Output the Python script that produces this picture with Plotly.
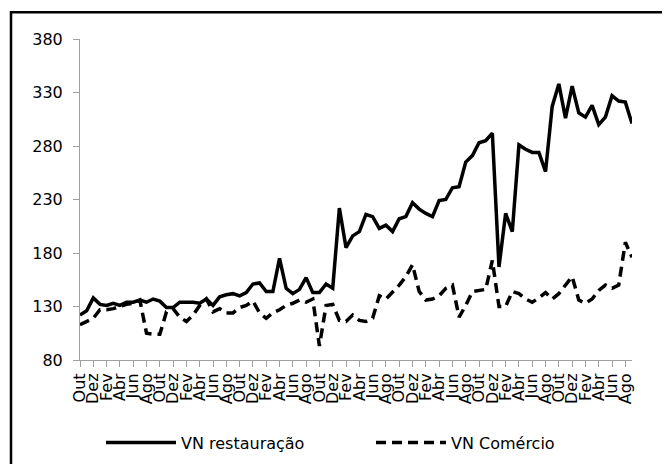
import plotly.graph_objects as go

nomes_mes = ["Jan", "Fev", "Mar", "Abr", "Mai", "Jun",
             "Jul", "Ago", "Set", "Out", "Nov", "Dez"]

# série mensal, de Out a Set (84 meses)
meses = [nomes_mes[(9 + i) % 12] for i in range(84)]

vn_restauracao = [
    122, 126, 138, 132, 131, 133, 131, 134, 134, 136, 134, 137,
    135, 129, 129, 134, 134, 134, 133, 137, 131, 139, 141, 142,
    140, 143, 151, 152, 144, 144, 175, 147, 142, 146, 157, 143,
    143, 151, 147, 222, 185, 196, 200, 216, 214, 203, 206, 200,
    212, 214, 227, 221, 217, 214, 229, 230, 241, 242, 265, 271,
    283, 285, 292, 167, 217, 200, 281, 277, 274, 274, 256, 317,
    338, 306, 336, 311, 307, 318, 300, 307, 327, 322, 321, 301,
]

vn_comercio = [
    113, 116, 119, 127, 127, 128, 130, 132, 133, 136, 105, 104,
    104, 125, 128, 120, 116, 122, 131, 137, 125, 128, 124, 124,
    129, 131, 135, 124, 119, 124, 127, 131, 133, 136, 134, 137,
    93, 131, 132, 117, 116, 122, 117, 116, 119, 140, 137, 143,
    150, 158, 169, 144, 136, 137, 140, 147, 150, 120, 131, 144,
    145, 146, 173, 130, 130, 144, 142, 137, 134, 138, 143, 137,
    142, 150, 158, 136, 133, 137, 145, 150, 147, 150, 190, 176,
]

# a página tem 8px de margem no body, por isso tudo vai 8px para trás
W, H = 670, 464
ML, MR, MT, MB = 72, 46, 31, 110
PW, PH = W - ML - MR, H - MT - MB


def px_x(p):
    return (p - ML) / PW


def px_y(p):
    return (H - MB - p) / PH


def main():
    x = list(range(len(meses)))
    fig = go.Figure()
    fig.add_trace(go.Scatter(x=x, y=vn_restauracao, mode="lines", name="VN restauração",
                             line=dict(color="black", width=3.5)))
    fig.add_trace(go.Scatter(x=x, y=vn_comercio, mode="lines", name="VN Comércio",
                             line=dict(color="black", width=3.5, dash="10px,6px")))

    fig.update_xaxes(range=[0, len(meses) - 1], tickvals=x[::2], ticktext=meses[::2],
                     tickangle=-90, showgrid=False, zeroline=False, showline=True,
                     linecolor="#a0a0a0", linewidth=1, ticks="outside", ticklen=6,
                     tickcolor="#a0a0a0", automargin=False)
    fig.update_yaxes(range=[80, 380], tick0=80, dtick=50, showgrid=False, zeroline=False,
                     showline=True, linecolor="#a0a0a0", linewidth=1, ticks="outside",
                     ticklen=6, tickcolor="#a0a0a0", ticklabelstandoff=7, automargin=False)

    fig.add_shape(type="rect", xref="paper", yref="paper",
                  x0=px_x(3), x1=px_x(657), y0=px_y(470), y1=px_y(4),
                  line=dict(color="black", width=2.5))

    fig.update_layout(
        width=W, height=H,
        margin=dict(l=ML, r=MR, t=MT, b=MB),
        paper_bgcolor="white", plot_bgcolor="white",
        font=dict(family="DejaVu Sans", size=16, color="black"),
        showlegend=True,
        legend=dict(orientation="h", x=px_x(363), xanchor="center",
                    y=px_y(437), yanchor="middle", itemwidth=70,
                    entrywidth=185, font=dict(size=16)),
    )
    fig.write_html("out.html")


if __name__ == "__main__":
    main()
